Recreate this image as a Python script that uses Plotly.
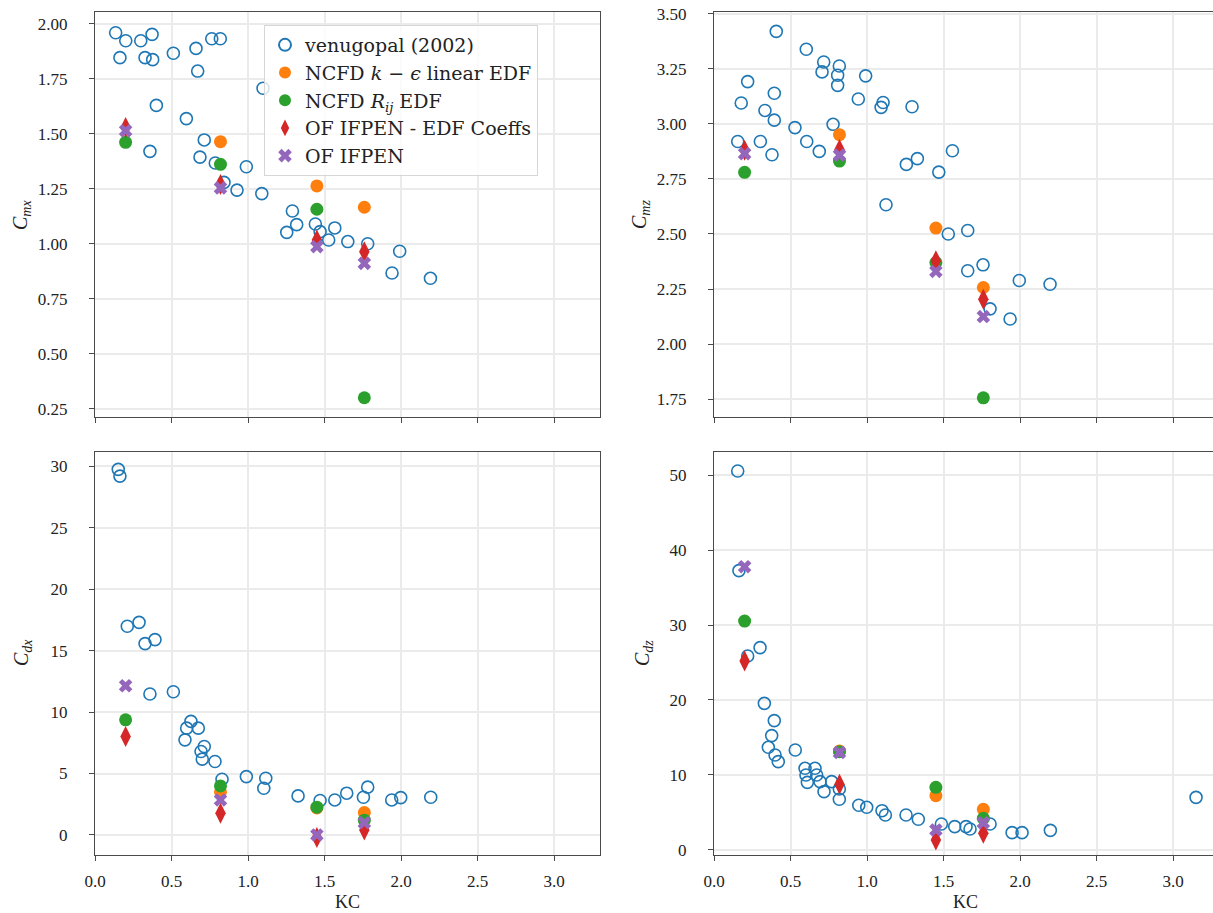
import plotly.graph_objects as go

# ---------------- data ----------------
# model KC positions
kc_models = [0.2, 0.82, 1.45, 1.76]
kc_ke = [0.82, 1.45, 1.76]

# C_mx (top-left)
ven_cmx_kc = [0.135, 0.201, 0.299, 0.373, 0.163, 0.327, 0.377, 0.512, 0.660, 0.763,
              0.819, 0.671, 1.098, 0.401, 0.597, 0.714, 0.359, 0.686, 0.786, 0.989,
              0.843, 0.928, 1.090, 1.290, 1.318, 1.253, 1.440, 1.471, 1.567, 1.527,
              1.652, 1.782, 1.991, 1.941, 2.192]
ven_cmx = [1.960, 1.924, 1.924, 1.953, 1.847, 1.847, 1.838, 1.867, 1.889, 1.933,
           1.933, 1.786, 1.708, 1.630, 1.570, 1.473, 1.421, 1.395, 1.368, 1.351,
           1.280, 1.245, 1.229, 1.150, 1.088, 1.053, 1.091, 1.056, 1.073, 1.018,
           1.011, 1.001, 0.967, 0.868, 0.844]
ke_cmx = [1.465, 1.264, 1.167]
rij_cmx = [1.462, 1.362, 1.158, 0.301]
ofedf_cmx = [1.530, 1.270, 1.018, 0.965]
of_cmx = [1.515, 1.255, 0.988, 0.912]

# C_mz (top-right)
ven_cmz_kc = [0.407, 0.603, 0.717, 0.819, 0.706, 0.808, 0.808, 0.991, 0.220, 0.394,
              0.178, 0.943, 1.105, 1.092, 1.294, 0.333, 0.394, 0.529, 0.778, 0.155,
              0.303, 0.606, 0.688, 0.379, 1.558, 1.329, 1.257, 1.469, 1.124, 1.531,
              1.658, 1.658, 1.758, 1.995, 2.196, 1.804, 1.935]
ven_cmz = [3.420, 3.339, 3.281, 3.263, 3.236, 3.221, 3.175, 3.218, 3.192, 3.139,
           3.095, 3.113, 3.097, 3.075, 3.078, 3.061, 3.017, 2.983, 2.998, 2.920,
           2.920, 2.920, 2.875, 2.860, 2.878, 2.842, 2.816, 2.781, 2.633, 2.500,
           2.516, 2.333, 2.360, 2.289, 2.272, 2.160, 2.114]
ke_cmz = [2.951, 2.527, 2.257]
rij_cmz = [2.780, 2.831, 2.370, 1.756]
ofedf_cmz = [2.880, 2.884, 2.379, 2.204]
of_cmz = [2.865, 2.858, 2.330, 2.125]

# C_dx (bottom-left)
ven_cdx_kc = [0.152, 0.163, 0.211, 0.288, 0.327, 0.392, 0.359, 0.512, 0.627, 0.599,
              0.675, 0.588, 0.714, 0.693, 0.701, 0.784, 0.830, 0.989, 1.116, 1.103,
              1.327, 1.471, 1.567, 1.645, 1.754, 1.782, 1.939, 1.998, 2.194]
ven_cdx = [29.75, 29.2, 16.98, 17.3, 15.57, 15.89, 11.47, 11.65, 9.24, 8.69,
           8.69, 7.74, 7.2, 6.79, 6.17, 5.98, 4.53, 4.75, 4.62, 3.8,
           3.18, 2.8, 2.85, 3.4, 3.07, 3.89, 2.85, 3.04, 3.07]
ke_cdx = [3.5, 2.2, 1.82]
rij_cdx = [9.37, 3.99, 2.26, 1.2]
ofedf_cdx = [8.01, 1.77, -0.2, 0.4]
of_cdx = [12.14, 2.85, 0.0, 1.0]

# C_dz (bottom-right)
ven_cdz_kc = [0.155, 0.163, 0.220, 0.301, 0.329, 0.394, 0.377, 0.355, 0.399, 0.420,
              0.531, 0.595, 0.660, 0.601, 0.671, 0.610, 0.693, 0.769, 0.719, 0.819,
              0.819, 0.946, 0.998, 1.098, 1.120, 1.255, 1.335, 1.486, 1.573, 1.647,
              1.673, 1.804, 1.948, 2.013, 2.198, 3.150]
ven_cdz = [50.53, 37.25, 25.87, 26.98, 19.55, 17.25, 15.25, 13.69, 12.67, 11.78,
           13.33, 10.89, 10.89, 10.0, 10.0, 9.02, 9.11, 9.11, 7.78, 8.13,
           6.76, 5.96, 5.69, 5.24, 4.67, 4.67, 4.09, 3.47, 3.11, 3.11,
           2.8, 3.47, 2.31, 2.31, 2.62, 7.02]
ke_cdz = [13.2, 7.24, 5.42]
rij_cdz = [30.53, 13.1, 8.36, 4.22]
ofedf_cdz = [25.2, 8.76, 1.33, 2.22]
of_cdz = [37.78, 13.0, 2.67, 3.64]

names = ["venugopal (2002)",
         "NCFD <i>k</i> − <i>ϵ</i> linear EDF",
         "NCFD <i>R<sub>ij</sub></i> EDF",
         "OF IFPEN - EDF Coeffs",
         "OF IFPEN"]

y_titles = ["<i>C<sub>mx</sub></i>", "<i>C<sub>mz</sub></i>",
            "<i>C<sub>dx</sub></i>", "<i>C<sub>dz</sub></i>"]
x_title = "KC"

C_BLUE, C_ORANGE, C_GREEN, C_RED, C_PURPLE = "#1f77b4", "#ff7f0e", "#2ca02c", "#d62728", "#9467bd"

panels = [
    ("x", "y", ven_cmx_kc, ven_cmx, ke_cmx, rij_cmx, ofedf_cmx, of_cmx),
    ("x2", "y2", ven_cmz_kc, ven_cmz, ke_cmz, rij_cmz, ofedf_cmz, of_cmz),
    ("x3", "y3", ven_cdx_kc, ven_cdx, ke_cdx, rij_cdx, ofedf_cdx, of_cdx),
    ("x4", "y4", ven_cdz_kc, ven_cdz, ke_cdz, rij_cdz, ofedf_cdz, of_cdz),
]

fig = go.Figure()
for i, (xa, ya, vkc, vv, ke, rij, ofe, of) in enumerate(panels):
    show = i == 0
    fig.add_trace(go.Scatter(x=vkc, y=vv, mode="markers", xaxis=xa, yaxis=ya,
                             name=names[0], legendgroup="g0", showlegend=show,
                             marker=dict(symbol="circle-open", size=12, color=C_BLUE,
                                         line=dict(width=1.6, color=C_BLUE))))
    fig.add_trace(go.Scatter(x=kc_ke, y=ke, mode="markers", xaxis=xa, yaxis=ya,
                             name=names[1], legendgroup="g1", showlegend=show,
                             marker=dict(symbol="circle", size=13, color=C_ORANGE)))
    fig.add_trace(go.Scatter(x=kc_models, y=rij, mode="markers", xaxis=xa, yaxis=ya,
                             name=names[2], legendgroup="g2", showlegend=show,
                             marker=dict(symbol="circle", size=13, color=C_GREEN)))
    fig.add_trace(go.Scatter(x=kc_models, y=ofe, mode="markers", xaxis=xa, yaxis=ya,
                             name=names[3], legendgroup="g3", showlegend=show,
                             marker=dict(symbol="diamond-tall", size=15, color=C_RED)))
    fig.add_trace(go.Scatter(x=kc_models, y=of, mode="markers", xaxis=xa, yaxis=ya,
                             name=names[4], legendgroup="g4", showlegend=show,
                             marker=dict(symbol="x", size=12, color=C_PURPLE)))

# figure is slightly wider than the window: the right frame of the right-hand
# panels falls just outside the visible page, as in the (cropped) reference
W, H = 1221, 913
FONT = "Liberation Serif, Times New Roman, serif"
LFONT = "DejaVu Serif, Liberation Serif, serif"
LINE = "#4a4a4a"
GRID = "#ebebeb"
TXT = "#222222"

def px_x(a, b):
    return [a / W, b / W]

def px_y(top, bottom):
    return [(H - bottom) / H, (H - top) / H]

def xax(domain, anchor, labels):
    return dict(domain=domain, anchor=anchor, range=[0, 3.3], dtick=0.5, tick0=0,
                tickformat=".1f", showticklabels=labels, ticks="outside", ticklen=5,
                tickwidth=1, tickcolor=LINE, showline=True, linecolor=LINE, linewidth=1.3,
                mirror=True, showgrid=True, gridcolor=GRID, gridwidth=1.5, zeroline=False,
                ticklabelstandoff=5, automargin=False,
                tickfont=dict(family=FONT, size=17, color=TXT))

def yax(domain, anchor, rng, dtick, fmt):
    return dict(domain=domain, anchor=anchor, range=rng, dtick=dtick, tick0=0,
                tickformat=fmt, ticks="outside", ticklen=5, tickwidth=1, tickcolor=LINE,
                showline=True, linecolor=LINE, linewidth=1.3, mirror=True,
                showgrid=True, gridcolor=GRID, gridwidth=1.5, zeroline=False,
                ticklabelstandoff=18, automargin=False,
                tickfont=dict(family=FONT, size=17, color=TXT))

LX = px_x(95, 600)
RX = px_x(714, 1219)
TY = px_y(12, 417)
BY = px_y(452, 855)

annotations = []
for txt, (px, py) in zip(y_titles, [(22, 215), (641, 215), (22, 653), (643, 653)]):
    annotations.append(dict(text=txt, x=px / W, y=1 - py / H, xref="paper", yref="paper",
                            showarrow=False, textangle=-90, xanchor="center", yanchor="middle",
                            font=dict(family=FONT, size=20, color=TXT)))
for px in (347, 965):
    annotations.append(dict(text=x_title, x=px / W, y=1 - 902 / H, xref="paper", yref="paper",
                            showarrow=False, xanchor="center", yanchor="middle",
                            font=dict(family=FONT, size=18, color=TXT)))

fig.update_layout(
    width=W, height=H,
    margin=dict(l=0, r=0, t=0, b=0),
    paper_bgcolor="white", plot_bgcolor="white",
    font=dict(family=FONT, size=17, color=TXT),
    xaxis=xax(LX, "y", False),
    yaxis=yax(TY, "x", [0.2136, 2.0545], 0.25, ".2f"),
    xaxis2=xax(RX, "y2", False),
    yaxis2=yax(TY, "x2", [1.669, 3.508], 0.25, ".2f"),
    xaxis3=xax(LX, "y3", True),
    yaxis3=yax(BY, "x3", [-1.63, 31.16], 5, "d"),
    xaxis4=xax(RX, "y4", True),
    yaxis4=yax(BY, "x4", [-0.67, 53.07], 10, "d"),
    annotations=annotations,
    legend=dict(x=264 / W, y=1 - 25 / H, xanchor="left", yanchor="top",
                bgcolor="rgba(255,255,255,0.8)", bordercolor="#d6d6d6", borderwidth=1,
                font=dict(family=LFONT, size=19, color=TXT),
                itemsizing="constant", tracegroupgap=0),
    showlegend=True,
)

fig.write_html("out.html", config={"displayModeBar": False},
               post_script="document.body.style.margin='0px';document.body.style.overflow='hidden';")
